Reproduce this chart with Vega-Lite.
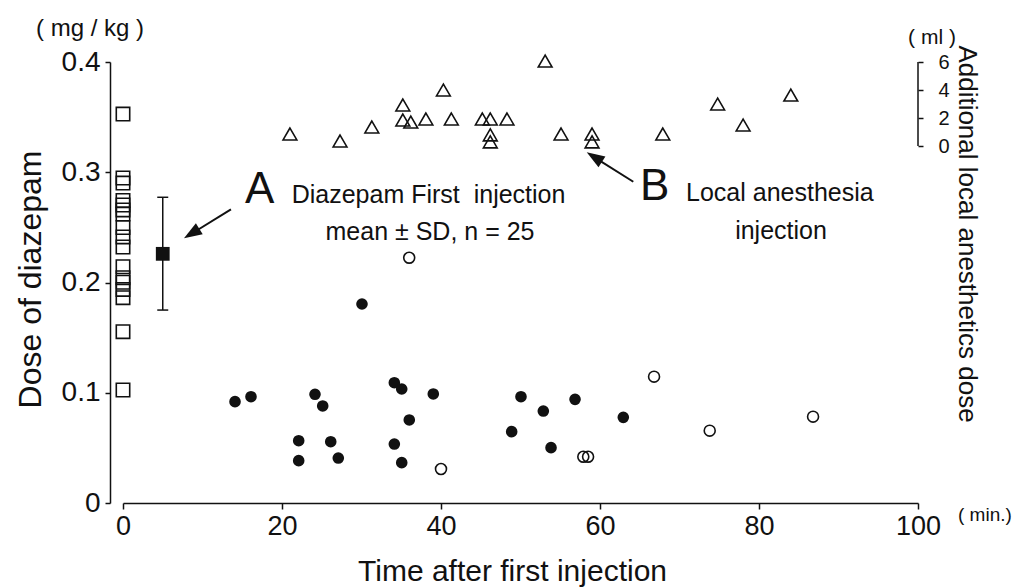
{
  "$schema": "https://vega.github.io/schema/vega-lite/v6.json",
  "width": 795,
  "height": 441,
  "autosize": {"type": "none"},
  "padding": {"left": 123, "top": 62, "right": 98, "bottom": 85},
  "background": "white",
  "config": {
    "view": {"stroke": null},
    "font": "Liberation Sans",
    "axis": {
      "grid": false,
      "labelFlush": false,
      "labelOverlap": false,
      "domainColor": "#111",
      "tickColor": "#111",
      "labelColor": "#111",
      "titleColor": "#111",
      "labelFont": "Liberation Sans",
      "titleFont": "Liberation Sans",
      "titleFontWeight": "normal",
      "domainWidth": 1.5,
      "tickWidth": 1.5
    }
  },
  "datasets": {
    "squares": [
      {"time": 0, "dose": 0.3528},
      {"time": 0, "dose": 0.2948},
      {"time": 0, "dose": 0.2902},
      {"time": 0, "dose": 0.2744},
      {"time": 0, "dose": 0.2703},
      {"time": 0, "dose": 0.2658},
      {"time": 0, "dose": 0.2621},
      {"time": 0, "dose": 0.2499},
      {"time": 0, "dose": 0.2413},
      {"time": 0, "dose": 0.2322},
      {"time": 0, "dose": 0.2143},
      {"time": 0, "dose": 0.2044},
      {"time": 0, "dose": 0.2002},
      {"time": 0, "dose": 0.1937},
      {"time": 0, "dose": 0.1862},
      {"time": 0, "dose": 0.1554},
      {"time": 0, "dose": 0.1025}
    ],
    "mean": [{"time": 5, "mean": 0.226, "lo": 0.175, "hi": 0.2773}],
    "filled": [
      {"time": 14.09, "dose": 0.0919},
      {"time": 16.1, "dose": 0.0964},
      {"time": 24.15, "dose": 0.0986},
      {"time": 25.12, "dose": 0.088},
      {"time": 22.1, "dose": 0.0565},
      {"time": 22.1, "dose": 0.0384},
      {"time": 26.13, "dose": 0.0556},
      {"time": 27.08, "dose": 0.0408},
      {"time": 34.13, "dose": 0.1091},
      {"time": 35.06, "dose": 0.1034},
      {"time": 39.03, "dose": 0.0989},
      {"time": 36.01, "dose": 0.0753},
      {"time": 34.13, "dose": 0.0535},
      {"time": 35.06, "dose": 0.0366},
      {"time": 50.06, "dose": 0.0964},
      {"time": 52.87, "dose": 0.0834},
      {"time": 56.86, "dose": 0.094},
      {"time": 62.93, "dose": 0.0777},
      {"time": 48.89, "dose": 0.0647},
      {"time": 53.84, "dose": 0.0502},
      {"time": 30.06, "dose": 0.1805}
    ],
    "open": [
      {"time": 40.0, "dose": 0.0308},
      {"time": 57.9, "dose": 0.042},
      {"time": 58.5, "dose": 0.042},
      {"time": 66.8, "dose": 0.1146},
      {"time": 73.8, "dose": 0.0656},
      {"time": 86.8, "dose": 0.0783},
      {"time": 36.0, "dose": 0.2225}
    ],
    "ml": [
      {"time": 21.0, "ml": 0.86},
      {"time": 27.3, "ml": 0.36},
      {"time": 31.3, "ml": 1.36},
      {"time": 35.2, "ml": 2.93},
      {"time": 35.2, "ml": 1.86},
      {"time": 36.2, "ml": 1.71},
      {"time": 38.1, "ml": 1.93},
      {"time": 40.3, "ml": 4.0},
      {"time": 41.3, "ml": 1.93},
      {"time": 45.2, "ml": 1.93},
      {"time": 46.2, "ml": 1.93},
      {"time": 46.2, "ml": 0.79},
      {"time": 46.2, "ml": 0.29},
      {"time": 48.3, "ml": 1.93},
      {"time": 53.1, "ml": 6.07},
      {"time": 55.1, "ml": 0.86},
      {"time": 59.0, "ml": 0.86},
      {"time": 59.0, "ml": 0.29},
      {"time": 67.9, "ml": 0.86},
      {"time": 74.8, "ml": 3.0},
      {"time": 78.0, "ml": 1.5},
      {"time": 84.0, "ml": 3.64}
    ]
  },
  "layer": [
    {
      "layer": [
        {
          "data": {"name": "squares"},
          "mark": {"type": "point", "shape": "square", "filled": false, "size": 180, "stroke": "#111", "strokeWidth": 1.6, "opacity": 1},
          "encoding": {
            "x": {
              "field": "time", "type": "quantitative",
              "scale": {"domain": [0, 100], "nice": false, "zero": false},
              "axis": {
                "values": [0, 20, 40, 60, 80, 100],
                "tickSize": 6, "labelFontSize": 27, "labelPadding": 4,
                "title": "Time after first injection", "titleFontSize": 30,
                "titleX": 389, "titleY": 77, "titleAlign": "center", "titleBaseline": "alphabetic"
              }
            },
            "y": {
              "field": "dose", "type": "quantitative",
              "scale": {"domain": [0, 0.4], "nice": false},
              "axis": {
                "values": [0, 0.1, 0.2, 0.3, 0.4],
                "labelExpr": "datum.value === 0 ? '0' : format(datum.value, '.1f')",
                "offset": 13, "tickSize": 5, "labelFontSize": 28, "labelPadding": 5,
                "title": "Dose of diazepam", "titleFontSize": 32,
                "titleX": -70, "titleY": 217, "titleAlign": "center", "titleBaseline": "alphabetic", "titleAngle": 270
              }
            }
          }
        },
        {
          "data": {"name": "filled"},
          "mark": {"type": "point", "shape": "circle", "filled": true, "size": 135, "color": "#111", "opacity": 1},
          "encoding": {
            "x": {"field": "time", "type": "quantitative"},
            "y": {"field": "dose", "type": "quantitative"}
          }
        },
        {
          "data": {"name": "open"},
          "mark": {"type": "point", "shape": "circle", "filled": false, "size": 120, "stroke": "#111", "strokeWidth": 1.6, "opacity": 1},
          "encoding": {
            "x": {"field": "time", "type": "quantitative"},
            "y": {"field": "dose", "type": "quantitative"}
          }
        },
        {
          "data": {"name": "mean"},
          "mark": {"type": "rule", "stroke": "#111", "strokeWidth": 1.5},
          "encoding": {
            "x": {"field": "time", "type": "quantitative"},
            "y": {"field": "lo", "type": "quantitative"},
            "y2": {"field": "hi"}
          }
        },
        {
          "data": {"name": "mean"},
          "mark": {"type": "tick", "orient": "horizontal", "size": 11, "thickness": 1.5, "color": "#111", "opacity": 1},
          "encoding": {
            "x": {"field": "time", "type": "quantitative"},
            "y": {"field": "lo", "type": "quantitative"}
          }
        },
        {
          "data": {"name": "mean"},
          "mark": {"type": "tick", "orient": "horizontal", "size": 11, "thickness": 1.5, "color": "#111", "opacity": 1},
          "encoding": {
            "x": {"field": "time", "type": "quantitative"},
            "y": {"field": "hi", "type": "quantitative"}
          }
        },
        {
          "data": {"name": "mean"},
          "mark": {"type": "point", "shape": "square", "filled": true, "size": 190, "color": "#111", "opacity": 1},
          "encoding": {
            "x": {"field": "time", "type": "quantitative"},
            "y": {"field": "mean", "type": "quantitative"}
          }
        },
        {
          "data": {"values": [{}]},
          "mark": {"type": "rule", "stroke": "#111", "strokeWidth": 2},
          "encoding": {
            "x": {"datum": 13.58, "type": "quantitative"},
            "y": {"datum": 0.2664, "type": "quantitative"},
            "x2": {"datum": 9.17},
            "y2": {"datum": 0.2467}
          }
        },
        {
          "data": {"values": [{}]},
          "mark": {"type": "point", "shape": "M0,0L-2,-0.72L-2,0.72Z", "filled": true, "size": 324, "color": "#111", "opacity": 1, "angle": 148.3},
          "encoding": {
            "x": {"datum": 7.67, "type": "quantitative"},
            "y": {"datum": 0.2401, "type": "quantitative"}
          }
        },
        {
          "data": {"values": [{}]},
          "mark": {"type": "rule", "stroke": "#111", "strokeWidth": 2},
          "encoding": {
            "x": {"datum": 64.19, "type": "quantitative"},
            "y": {"datum": 0.2914, "type": "quantitative"},
            "x2": {"datum": 59.81},
            "y2": {"datum": 0.3113}
          }
        },
        {
          "data": {"values": [{}]},
          "mark": {"type": "point", "shape": "M0,0L-2,-0.72L-2,0.72Z", "filled": true, "size": 324, "color": "#111", "opacity": 1, "angle": 212.2},
          "encoding": {
            "x": {"datum": 58.33, "type": "quantitative"},
            "y": {"datum": 0.3181, "type": "quantitative"}
          }
        },
        {
          "data": {"values": [{}]},
          "mark": {"type": "text", "text": "A", "fontSize": 44, "align": "left", "baseline": "alphabetic", "color": "#111"},
          "encoding": {
            "x": {"datum": 15.35, "type": "quantitative"},
            "y": {"datum": 0.2721, "type": "quantitative"}
          }
        },
        {
          "data": {"values": [{}]},
          "mark": {"type": "text", "text": "Diazepam First \u00a0injection", "fontSize": 25, "align": "left", "baseline": "alphabetic", "color": "#111"},
          "encoding": {
            "x": {"datum": 21.22, "type": "quantitative"},
            "y": {"datum": 0.2721, "type": "quantitative"}
          }
        },
        {
          "data": {"values": [{}]},
          "mark": {"type": "text", "text": "mean ± SD, n = 25", "fontSize": 25, "align": "center", "baseline": "alphabetic", "color": "#111"},
          "encoding": {
            "x": {"datum": 38.62, "type": "quantitative"},
            "y": {"datum": 0.2385, "type": "quantitative"}
          }
        },
        {
          "data": {"values": [{}]},
          "mark": {"type": "text", "text": "B", "fontSize": 44, "align": "left", "baseline": "alphabetic", "color": "#111"},
          "encoding": {
            "x": {"datum": 65.03, "type": "quantitative"},
            "y": {"datum": 0.2748, "type": "quantitative"}
          }
        },
        {
          "data": {"values": [{}]},
          "mark": {"type": "text", "text": "Local anesthesia", "fontSize": 25, "align": "left", "baseline": "alphabetic", "color": "#111"},
          "encoding": {
            "x": {"datum": 70.82, "type": "quantitative"},
            "y": {"datum": 0.2739, "type": "quantitative"}
          }
        },
        {
          "data": {"values": [{}]},
          "mark": {"type": "text", "text": "injection", "fontSize": 25, "align": "center", "baseline": "alphabetic", "color": "#111"},
          "encoding": {
            "x": {"datum": 82.77, "type": "quantitative"},
            "y": {"datum": 0.2395, "type": "quantitative"}
          }
        },
        {
          "data": {"values": [{}]},
          "mark": {"type": "text", "text": "( mg / kg )", "fontSize": 24, "align": "center", "baseline": "alphabetic", "color": "#111"},
          "encoding": {
            "x": {"datum": -4.15, "type": "quantitative"},
            "y": {"datum": 0.4236, "type": "quantitative"}
          }
        },
        {
          "data": {"values": [{}]},
          "mark": {"type": "text", "text": "( ml )", "fontSize": 21, "align": "center", "baseline": "alphabetic", "color": "#111"},
          "encoding": {
            "x": {"datum": 101.76, "type": "quantitative"},
            "y": {"datum": 0.4163, "type": "quantitative"}
          }
        },
        {
          "data": {"values": [{}]},
          "mark": {"type": "text", "text": "( min.)", "fontSize": 19, "align": "left", "baseline": "alphabetic", "color": "#111"},
          "encoding": {
            "x": {"datum": 105.03, "type": "quantitative"},
            "y": {"datum": -0.0163, "type": "quantitative"}
          }
        }
      ]
    },
    {
      "layer": [
        {
          "data": {"name": "ml"},
          "mark": {"type": "point", "shape": "triangle-up", "filled": false, "size": 190, "stroke": "#111", "strokeWidth": 1.6, "opacity": 1},
          "encoding": {
            "x": {"field": "time", "type": "quantitative"},
            "y": {
              "field": "ml", "type": "quantitative",
              "scale": {"domain": [-25.5, 6], "nice": false, "zero": false},
              "axis": {
                "orient": "right",
                "values": [0, 2, 4, 6],
                "domain": false,
                "tickSize": 5, "labelFontSize": 20, "labelPadding": 15,
                "title": "Additional local anesthetics dose", "titleFontSize": 26,
                "titleAngle": 90, "titleX": 40, "titleY": 171.5, "titleAlign": "center", "titleBaseline": "alphabetic"
              }
            }
          }
        },
        {
          "data": {"values": [{}]},
          "mark": {"type": "rule", "stroke": "#111", "strokeWidth": 1.5},
          "encoding": {
            "x": {"datum": 100, "type": "quantitative"},
            "y": {"datum": 0, "type": "quantitative"},
            "y2": {"datum": 6}
          }
        }
      ]
    }
  ],
  "resolve": {"scale": {"y": "independent"}, "axis": {"y": "independent"}}
}
